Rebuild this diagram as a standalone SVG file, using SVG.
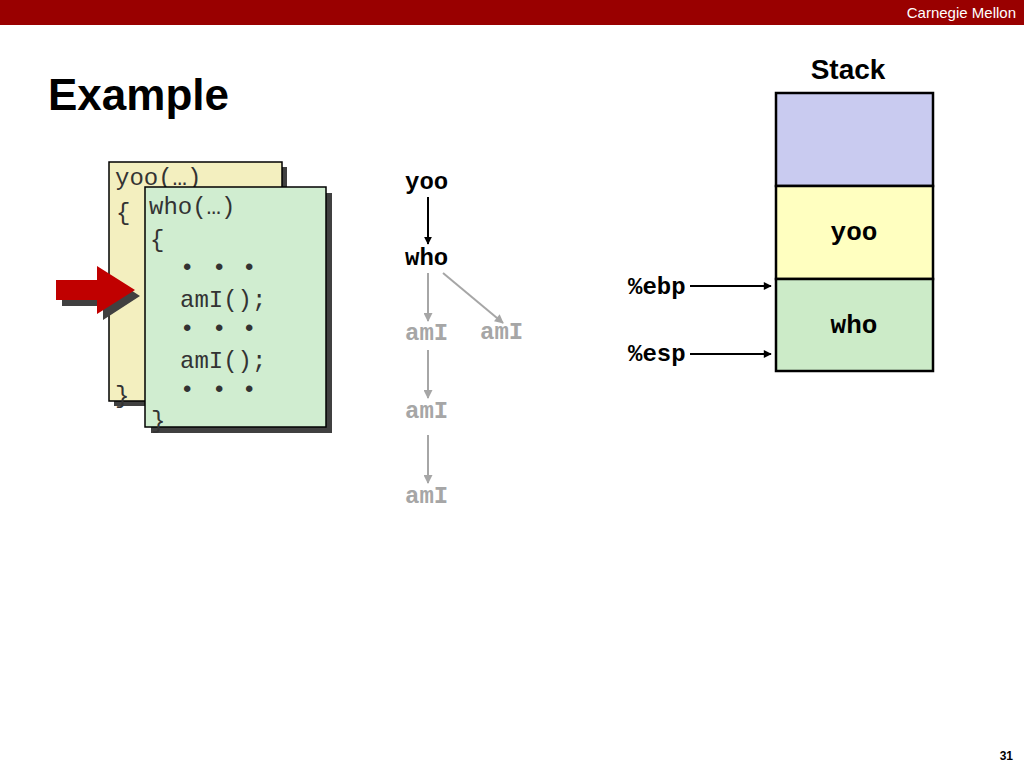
<svg xmlns="http://www.w3.org/2000/svg" width="1024" height="768" viewBox="0 0 1024 768">
<defs>
<style>
.code{font-family:"Liberation Mono","Courier New",monospace;font-size:24px;fill:#333}
.tree{font-family:"Liberation Mono","Courier New",monospace;font-size:24px;font-weight:bold}
.blk{fill:#000}
.gry{fill:#A6A6A6}
.stk{font-family:"Liberation Mono","Courier New",monospace;font-size:26px;font-weight:bold;fill:#000;text-anchor:middle}
.reg{font-family:"Liberation Mono","Courier New",monospace;font-size:24px;font-weight:bold;fill:#000}
.sans{font-family:"Liberation Sans",Arial,sans-serif}
</style>
<marker id="ahB" viewBox="0 0 10 10" refX="9" refY="5" markerWidth="8" markerHeight="8" orient="auto" markerUnits="userSpaceOnUse">
<path d="M0,0 L10,5 L0,10 z" fill="#000"/>
</marker>
<marker id="ahG" viewBox="0 0 10 10" refX="9" refY="5" markerWidth="10" markerHeight="9" orient="auto" markerUnits="userSpaceOnUse">
<path d="M0,0 L10,5 L0,10 z" fill="#A6A6A6"/>
</marker>
<marker id="ahS" viewBox="0 0 10 10" refX="9" refY="5" markerWidth="10" markerHeight="8" orient="auto" markerUnits="userSpaceOnUse">
<path d="M0,0 L10,5 L0,10 z" fill="#000"/>
</marker>
</defs>
<rect x="0" y="0" width="1024" height="768" fill="#fff"/>
<g id="header">
<rect x="0" y="0" width="1024" height="25" fill="#990000"/>
<text x="1016" y="18" class="sans" font-size="15" fill="#fff" text-anchor="end">Carnegie Mellon</text>
</g>
<g id="title">
<text x="48" y="110" class="sans" font-size="44" font-weight="bold" fill="#000">Example</text>
</g>
<g id="yoo-code">
<rect x="114" y="167" width="173" height="239" fill="#404040"/>
<rect x="109" y="162" width="173" height="239" fill="#F3EFBF" stroke="#000" stroke-width="1.5"/>
<text x="115" y="185" class="code">yoo(…)</text>
<text x="116" y="220" class="code">{</text>
<text x="115" y="403" class="code">}</text>
</g>
<g id="who-code">
<rect x="151" y="193" width="181" height="240" fill="#404040"/>
<rect x="145" y="187" width="181" height="240" fill="#D0EDD0" stroke="#000" stroke-width="1.5"/>
<text x="149" y="214" class="code">who(…)</text>
<text x="150" y="247" class="code">{</text>
<text x="180 212 242" y="275" class="code">•••</text>
<text x="180" y="307" class="code">amI();</text>
<text x="180 212 242" y="336" class="code">•••</text>
<text x="180" y="368" class="code">amI();</text>
<text x="180 212 242" y="397" class="code">•••</text>
<text x="151" y="428" class="code">}</text>
</g>
<g id="pointer-arrow">
<path d="M62,286 L103,286 L103,272 L140,296 L103,320 L103,306 L62,306 z" fill="#404040"/>
<path d="M56,280 L97,280 L97,266 L135,290 L97,314 L97,300 L56,300 z" fill="#C00000"/>
</g>
<g id="tree-yoo"><text x="405" y="189" class="tree blk">yoo</text></g>
<g id="tree-who"><text x="405" y="265" class="tree blk">who</text></g>
<g id="tree-amI-1"><text x="405" y="340" class="tree gry">amI</text></g>
<g id="tree-amI-2"><text x="480" y="339" class="tree gry">amI</text></g>
<g id="tree-amI-3"><text x="405" y="418" class="tree gry">amI</text></g>
<g id="tree-amI-4"><text x="405" y="503" class="tree gry">amI</text></g>
<g id="connectors">
<line x1="428" y1="197" x2="428" y2="244" stroke="#000" stroke-width="2" marker-end="url(#ahB)"/>
<line x1="428" y1="273" x2="428" y2="321" stroke="#A6A6A6" stroke-width="2" marker-end="url(#ahG)"/>
<line x1="443" y1="273" x2="503" y2="323" stroke="#A6A6A6" stroke-width="2" marker-end="url(#ahG)"/>
<line x1="428" y1="350" x2="428" y2="398" stroke="#A6A6A6" stroke-width="2" marker-end="url(#ahG)"/>
<line x1="428" y1="435" x2="428" y2="483" stroke="#A6A6A6" stroke-width="2" marker-end="url(#ahG)"/>
<line x1="690" y1="286" x2="771" y2="286" stroke="#000" stroke-width="2" marker-end="url(#ahS)"/>
<line x1="690" y1="354" x2="771" y2="354" stroke="#000" stroke-width="2" marker-end="url(#ahS)"/>
</g>
<g id="stack">
<text x="848" y="79" class="sans" font-size="28" font-weight="bold" fill="#000" text-anchor="middle">Stack</text>
<rect x="776" y="93" width="157" height="93" fill="#C9CBF0" stroke="#000" stroke-width="2.5"/>
</g>
<g id="stack-yoo">
<rect x="776" y="186" width="157" height="93" fill="#FFFFC0" stroke="#000" stroke-width="2.5"/>
<text x="854" y="240" class="stk">yoo</text>
</g>
<g id="stack-who">
<rect x="776" y="279" width="157" height="92" fill="#CCEBC8" stroke="#000" stroke-width="2.5"/>
<text x="854" y="333" class="stk">who</text>
</g>
<g id="reg-ebp"><text x="628" y="294" class="reg">%ebp</text></g>
<g id="reg-esp"><text x="628" y="361" class="reg">%esp</text></g>
<g id="page"><text x="1013" y="760" class="sans" font-size="12" font-weight="bold" fill="#000" text-anchor="end">31</text></g>
</svg>
